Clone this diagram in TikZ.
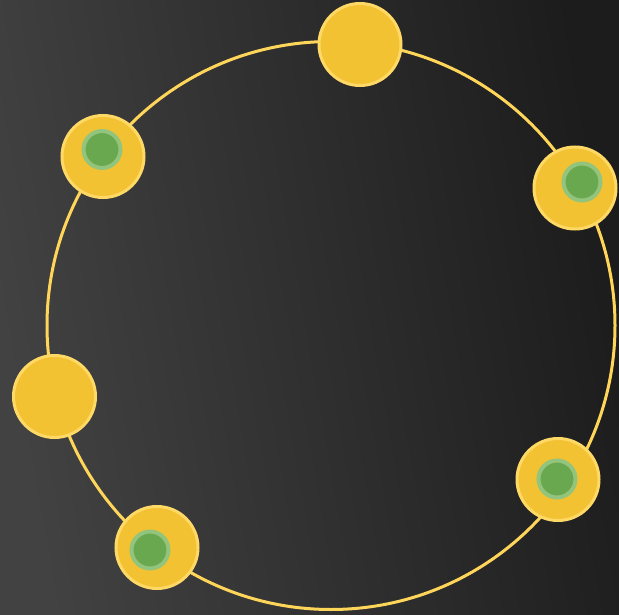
\documentclass[tikz,border=0pt]{standalone}
\definecolor{bgL}{RGB}{66,66,66}
\definecolor{bgR}{RGB}{28,28,28}
\definecolor{ringcol}{RGB}{255,214,90}
\definecolor{yfill}{RGB}{242,194,50}
\definecolor{yline}{RGB}{255,217,102}
\definecolor{gfill}{RGB}{106,168,79}
\definecolor{gline}{RGB}{147,196,125}
\tikzset{
  ydot/.style={circle, fill=yfill, draw=yline, line width=3pt, minimum size=82pt, inner sep=0pt},
  gdot/.style={circle, fill=gfill, draw=gline, line width=4pt, minimum size=37pt, inner sep=0pt},
  ringline/.style={draw=ringcol, line width=3pt}
}
\begin{document}
\begin{tikzpicture}[x=1pt,y=-1pt]
\useasboundingbox (0,0) rectangle (619,615);
\shade[left color=bgL, right color=bgR, shading angle=100] (0,0) rectangle (619,615);
\coordinate (c) at (331,325.5);
\draw[ringline] (c) circle[radius=284];
\node[ydot] (top) at (360,44.5) {};
\node[ydot] (tr) at (575,188) {};
\node[ydot] (br) at (558,479.5) {};
\node[ydot] (bl) at (157,547.5) {};
\node[ydot] (lf) at (54.5,396.5) {};
\node[ydot] (tl) at (103,156.5) {};
\node[gdot] (gtr) at (582,182) {};
\node[gdot] (gbr) at (557,479) {};
\node[gdot] (gbl) at (150,550) {};
\node[gdot] (gtl) at (102,149.5) {};
\end{tikzpicture}
\end{document}
